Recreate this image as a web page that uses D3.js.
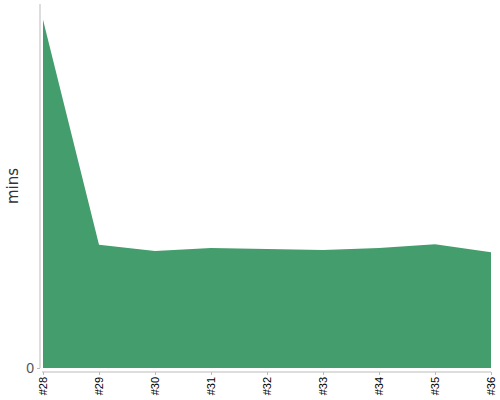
<!DOCTYPE html>
<html>
<head>
<meta charset="UTF-8">
<script src="https://d3js.org/d3.v7.min.js"></script>
<style>
  body { margin: 0; font-family: "DejaVu Sans", sans-serif; }
  .axis path, .axis line { stroke: #bbb; }
</style>
</head>
<body>
<svg width="500" height="400"></svg>
<script>
  // data
  var builds = ["#28", "#29", "#30", "#31", "#32", "#33", "#34", "#35", "#36"];
  var mins = [57.4, 20.3, 19.3, 19.8, 19.6, 19.45, 19.8, 20.4, 19.1];
  var yTicks = [0];

  var svg = d3.select("svg"),
    margin = { top: 4, right: 9, bottom: 32, left: 43 },
    width = 500 - margin.left - margin.right,
    height = 400 - margin.top - margin.bottom;

  var x = d3.scalePoint().domain(builds).range([0, width]),
    y = d3.scaleLinear().domain([0, 60]).range([height, 0]);

  var g = svg.append("g")
    .attr("transform", "translate(" + margin.left + "," + margin.top + ")");

  var data = builds.map(function (b, i) { return { build: b, v: mins[i] }; });

  g.append("path")
    .datum(data)
    .attr("fill", "#449d6c")
    .attr("d", d3.area()
      .x(function (d) { return x(d.build); })
      .y0(y(0))
      .y1(function (d) { return y(d.v); }));

  // y axis
  var ya = g.append("g")
    .attr("class", "axis")
    .attr("transform", "translate(-3,0)")
    .call(d3.axisLeft(y).tickValues(yTicks).tickSize(3).tickSizeOuter(0));
  ya.select(".domain").attr("d", "M0,0V" + height);
  ya.selectAll("text").attr("fill", "#555").style("font-size", "14px")
    .attr("x", -6).attr("dy", "0.35em");

  // x axis
  var xa = g.append("g")
    .attr("class", "axis")
    .attr("transform", "translate(0," + (height + 4) + ")")
    .call(d3.axisBottom(x).tickSize(3).tickSizeOuter(0));
  xa.select(".domain").attr("d", "M-1,0H" + width);
  xa.selectAll("text")
    .attr("fill", "#000")
    .style("font-size", "11px")
    .attr("transform", "rotate(-90)")
    .attr("text-anchor", "end")
    .attr("x", -5)
    .attr("y", 0)
    .attr("dy", "0.35em");

  svg.append("text")
    .attr("transform", "translate(18,186) rotate(-90)")
    .attr("text-anchor", "middle")
    .attr("fill", "#333")
    .style("font-size", "15px")
    .text("mins");
</script>
</body>
</html>
